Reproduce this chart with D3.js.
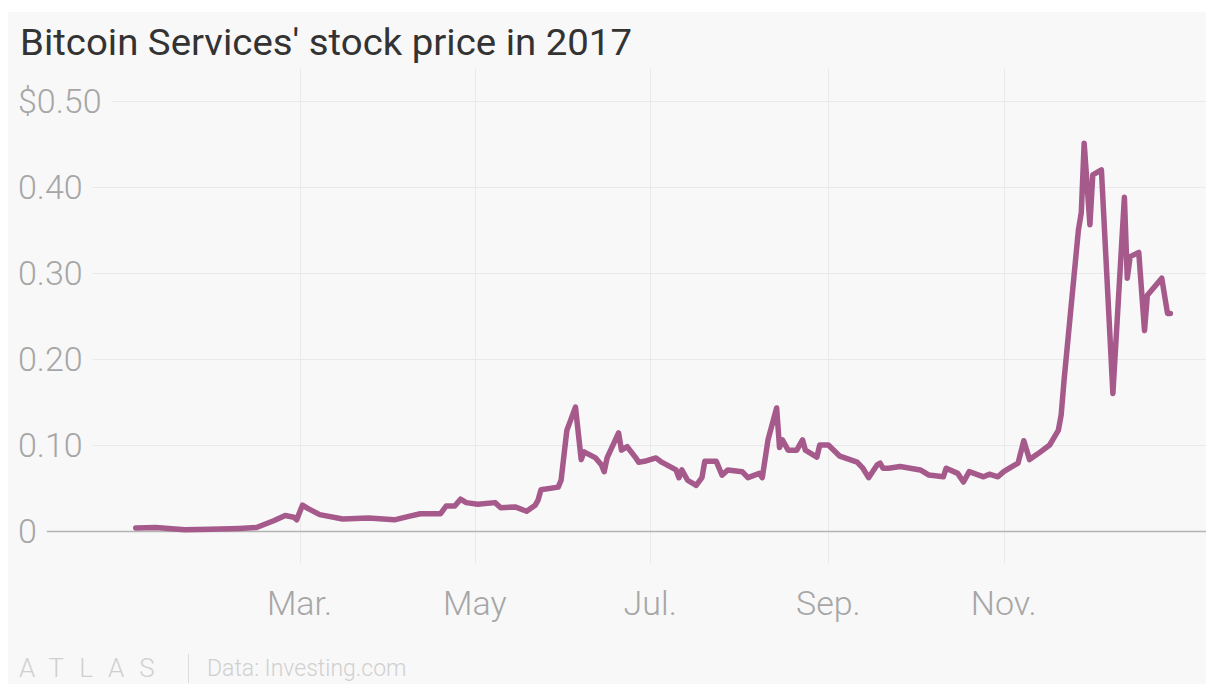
<!DOCTYPE html>
<meta charset="utf-8">
<style>
  body { margin: 0; background: #fff; }
  .grid line { stroke: #e9e9e9; stroke-width: 1; }
  .ylab, .xlab { fill: #a6a6a6; font-family: Roboto, sans-serif; font-weight: 300; font-size: 34px; }
  .title { fill: #333; font-family: Roboto, sans-serif; font-size: 36px; }
  .price { fill: none; stroke: #a65a8c; stroke-width: 5.5; stroke-linejoin: round; stroke-linecap: round; }
  .foot { fill: #d0d0d0; font-family: Roboto, sans-serif; font-weight: 300; }
</style>
<body>
<script src="https://d3js.org/d3.v7.min.js"></script>
<script>
var width = 1206, height = 684;

// daily closes
var dates = ["2017-01-03","2017-01-10","2017-01-20","2017-01-29","2017-02-08","2017-02-14","2017-02-20","2017-02-24","2017-02-27","2017-02-28",
  "2017-03-02","2017-03-04","2017-03-08","2017-03-16","2017-03-25","2017-04-03","2017-04-08","2017-04-12","2017-04-19","2017-04-21",
  "2017-04-24","2017-04-26","2017-04-28","2017-05-02","2017-05-08","2017-05-10","2017-05-15","2017-05-19","2017-05-22","2017-05-23",
  "2017-05-24","2017-05-30","2017-05-31","2017-06-02","2017-06-05","2017-06-07","2017-06-08","2017-06-12","2017-06-14","2017-06-15",
  "2017-06-16","2017-06-20","2017-06-21","2017-06-23","2017-06-26","2017-06-27","2017-06-29","2017-07-03","2017-07-05","2017-07-10",
  "2017-07-11","2017-07-12","2017-07-14","2017-07-17","2017-07-19","2017-07-20","2017-07-24","2017-07-26","2017-07-28","2017-08-02",
  "2017-08-04","2017-08-08","2017-08-09","2017-08-11","2017-08-14","2017-08-15","2017-08-16","2017-08-18","2017-08-21","2017-08-23",
  "2017-08-24","2017-08-28","2017-08-29","2017-09-01","2017-09-05","2017-09-11","2017-09-13","2017-09-15","2017-09-18","2017-09-19",
  "2017-09-20","2017-09-22","2017-09-26","2017-10-03","2017-10-06","2017-10-11","2017-10-12","2017-10-16","2017-10-18","2017-10-20",
  "2017-10-25","2017-10-27","2017-10-30","2017-11-01","2017-11-03","2017-11-06","2017-11-08","2017-11-10","2017-11-13","2017-11-17",
  "2017-11-20","2017-11-21","2017-11-22","2017-11-24","2017-11-27","2017-11-28","2017-11-29","2017-12-01","2017-12-02","2017-12-05",
  "2017-12-09","2017-12-13","2017-12-14","2017-12-15","2017-12-18","2017-12-20","2017-12-21","2017-12-26","2017-12-28","2017-12-29"];
var prices = [0.0035,0.004,0.0015,0.002,0.003,0.004,0.012,0.018,0.016,0.013,
  0.030,0.026,0.019,0.014,0.015,0.013,0.017,0.020,0.020,0.029,
  0.029,0.037,0.033,0.031,0.033,0.027,0.028,0.023,0.030,0.036,
  0.048,0.051,0.059,0.117,0.144,0.083,0.092,0.085,0.077,0.069,
  0.085,0.114,0.094,0.098,0.085,0.080,0.081,0.085,0.080,0.071,
  0.062,0.071,0.059,0.053,0.062,0.081,0.081,0.065,0.071,0.069,
  0.062,0.067,0.062,0.106,0.143,0.097,0.106,0.094,0.094,0.106,
  0.094,0.086,0.100,0.100,0.087,0.080,0.073,0.062,0.077,0.079,
  0.073,0.073,0.075,0.071,0.065,0.063,0.073,0.067,0.057,0.069,
  0.063,0.066,0.063,0.069,0.073,0.079,0.105,0.083,0.090,0.100,
  0.117,0.135,0.175,0.245,0.350,0.370,0.451,0.356,0.414,0.420,
  0.160,0.388,0.294,0.319,0.324,0.233,0.274,0.294,0.253,0.253];

var yTicks = [0, 0.1, 0.2, 0.3, 0.4, 0.5];
var yTickLabels = ["0", "0.10", "0.20", "0.30", "0.40", "$0.50"];
var xTicks = ["2017-03-01", "2017-05-01", "2017-07-01", "2017-09-01", "2017-11-01"];
var xTickLabels = ["Mar.", "May", "Jul.", "Sep.", "Nov."];

var parse = d3.timeParse("%Y-%m-%d");
var data = dates.map(function(d, i) { return {date: parse(d), value: prices[i]}; });

var x = d3.scaleTime()
    .domain([parse("2017-01-01"), parse("2018-01-01")])
    .range([130, 1179]);
var y = d3.scaleLinear()
    .domain([0, 0.5])
    .range([531, 101]);

var svg = d3.select("body").append("svg")
    .attr("width", width)
    .attr("height", height);

// card background
svg.append("rect")
    .attr("x", 8).attr("y", 12)
    .attr("width", width - 8).attr("height", height - 12)
    .attr("fill", "#f8f8f8");

svg.append("text")
    .attr("class", "title")
    .attr("x", 20).attr("y", 55)
    .attr("textLength", 612)
    .attr("lengthAdjust", "spacingAndGlyphs")
    .text("Bitcoin Services' stock price in 2017");

// vertical grid
var grid = svg.append("g").attr("class", "grid");
grid.selectAll("line.v")
    .data(xTicks)
  .enter().append("line")
    .attr("class", "v")
    .attr("x1", function(d) { return Math.round(x(parse(d))) + 0.5; })
    .attr("x2", function(d) { return Math.round(x(parse(d))) + 0.5; })
    .attr("y1", 68).attr("y2", 563);

// y labels, then horizontal grid starting just after each label
var ylab = svg.append("g").selectAll("text")
    .data(yTicks)
  .enter().append("text")
    .attr("class", "ylab")
    .attr("x", 18)
    .attr("y", function(d) { return y(d); })
    .attr("dy", "0.35em")
    .text(function(d, i) { return yTickLabels[i]; });

ylab.each(function(d) {
  var bb = this.getBBox();
  var yy = Math.round(y(d)) + 0.5;
  if (d === 0) {
    svg.append("line")
        .attr("x1", bb.x + bb.width + 10).attr("x2", width)
        .attr("y1", yy).attr("y2", yy)
        .attr("stroke", "#b3b3b3").attr("stroke-width", 1.5);
  } else {
    grid.append("line")
        .attr("x1", bb.x + bb.width + 10).attr("x2", width)
        .attr("y1", yy).attr("y2", yy);
  }
});

svg.append("g").selectAll("text")
    .data(xTicks)
  .enter().append("text")
    .attr("class", "xlab")
    .attr("x", function(d) { return x(parse(d)); })
    .attr("y", 615)
    .attr("text-anchor", "middle")
    .text(function(d, i) { return xTickLabels[i]; });

var line = d3.line()
    .x(function(d) { return x(d.date); })
    .y(function(d) { return y(d.value); });

svg.append("path")
    .datum(data)
    .attr("class", "price")
    .attr("d", line);

// footer
svg.append("text")
    .attr("class", "foot")
    .attr("x", 19).attr("y", 677)
    .attr("font-size", 26)
    .attr("letter-spacing", 15)
    .text("ATLAS");
svg.append("line")
    .attr("x1", 188.5).attr("x2", 188.5)
    .attr("y1", 654).attr("y2", 683)
    .attr("stroke", "#dcdcdc");
svg.append("text")
    .attr("class", "foot")
    .attr("x", 207).attr("y", 676)
    .attr("font-size", 23)
    .text("Data: Investing.com");
</script>
</body>
